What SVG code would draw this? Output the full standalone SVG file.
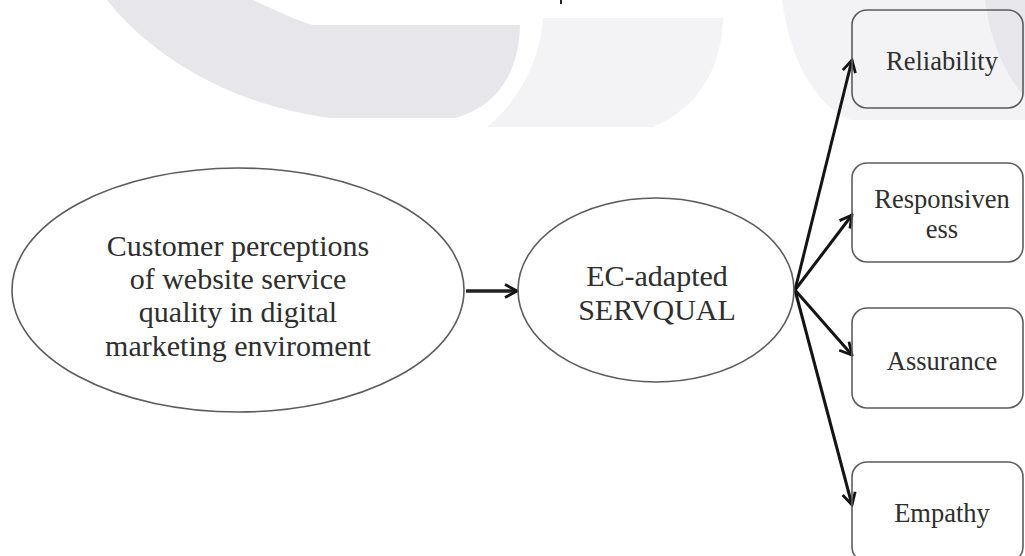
<svg xmlns="http://www.w3.org/2000/svg" width="1025" height="556" viewBox="0 0 1025 556">
  <style>
    .oval { fill: none; stroke: #5c5c5c; stroke-width: 1.6; }
    .box { fill: none; stroke: #5c5c5c; stroke-width: 1.6; }
    .lbl { font-family: "Liberation Serif", "Times New Roman", serif; fill: #2e2e2e; text-anchor: middle; }
    .big { font-size: 30px; }
    .small { font-size: 26.5px; }
    .link { fill: none; stroke: #141414; stroke-width: 3; marker-end: url(#arrow); }
    .wm-dark { fill: #e6e6eb; }
    .wm-light { fill: #f3f3f6; }
  </style>
  <defs>
    <marker id="arrow" viewBox="0 0 16 16" refX="14" refY="8" markerWidth="16" markerHeight="16" markerUnits="userSpaceOnUse" orient="auto">
      <path d="M2,1.5 L14,8 L2,14.5" fill="none" stroke="#141414" stroke-width="2.8" stroke-linejoin="miter"/>
    </marker>
  </defs>

  <rect width="1025" height="556" fill="#ffffff"/>

  <!-- faint background emblem -->
  <g id="backdrop">
    <path class="wm-dark" d="M107,0 L253,0 C275,10 295,20 313,25 L520,25 C519,70 500,105 455,118 L330,118 C230,105 150,55 107,0 Z"/>
    <path class="wm-light" d="M543,18 L723,18 C722,60 705,105 653,127 L487,127 C520,100 540,60 543,18 Z"/>
    <path class="wm-light" d="M782,0 L1025,0 L1025,120 L850,120 C815,105 790,60 782,0 Z"/>
    <path class="wm-dark" d="M985,0 L1025,0 L1025,97 C1005,75 990,40 985,0 Z"/>
    <rect x="560" y="0" width="2" height="4" fill="#222"/>
  </g>

  <!-- connectors -->
  <g id="connectors">
    <line class="link" x1="466" y1="291" x2="517" y2="291" style="stroke-width:3.6;stroke:#222"/>
    <line class="link" x1="795" y1="290" x2="852" y2="60"/>
    <line class="link" x1="795" y1="290" x2="852" y2="215"/>
    <line class="link" x1="795" y1="290" x2="852" y2="355"/>
    <line class="link" x1="795" y1="290" x2="852" y2="505"/>
  </g>

  <g id="node-perceptions">
    <ellipse class="oval" cx="238" cy="290" rx="226" ry="122"/>
    <text class="lbl big" x="238" y="256">Customer perceptions</text>
    <text class="lbl big" x="238" y="289">of website service</text>
    <text class="lbl big" x="238" y="322">quality in digital</text>
    <text class="lbl big" x="238" y="356">marketing enviroment</text>
  </g>

  <g id="node-servqual">
    <ellipse class="oval" cx="656" cy="290" rx="138" ry="92"/>
    <text class="lbl big" x="657" y="286">EC-adapted</text>
    <text class="lbl big" x="657" y="320">SERVQUAL</text>
  </g>

  <g id="node-reliability">
    <rect class="box" x="852" y="10" width="171" height="98" rx="15"/>
    <text class="lbl small" x="942" y="70">Reliability</text>
  </g>

  <g id="node-responsiveness">
    <rect class="box" x="852" y="163" width="171" height="99" rx="15"/>
    <text class="lbl small" x="942" y="208">Responsiven</text>
    <text class="lbl small" x="942" y="238">ess</text>
  </g>

  <g id="node-assurance">
    <rect class="box" x="852" y="308" width="171" height="100" rx="15"/>
    <text class="lbl small" x="942" y="370">Assurance</text>
  </g>

  <g id="node-empathy">
    <rect class="box" x="852" y="462" width="171" height="100" rx="15"/>
    <text class="lbl small" x="942" y="522">Empathy</text>
  </g>
</svg>
